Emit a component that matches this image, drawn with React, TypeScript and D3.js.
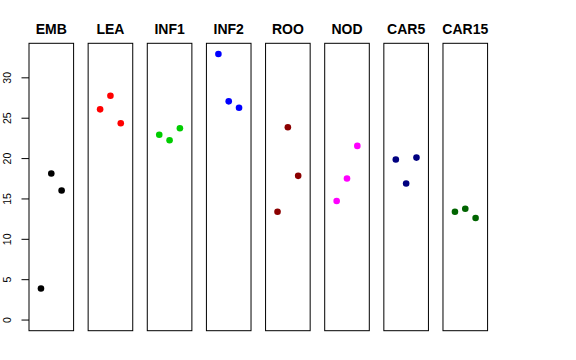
import React from "react";
import * as d3 from "d3";

const categories = ["EMB", "LEA", "INF1", "INF2", "ROO", "NOD", "CAR5", "CAR15"];
const colors = ["#000000", "#FF0000", "#00CD00", "#0000FF", "#8B0000", "#FF00FF", "#000080", "#006400"];
const values: number[][] = [
  [3.9, 18.15, 16.05],
  [26.1, 27.78, 24.37],
  [22.96, 22.27, 23.75],
  [32.96, 27.09, 26.3],
  [13.42, 23.88, 17.86],
  [14.74, 17.53, 21.57],
  [19.88, 16.91, 20.12],
  [13.42, 13.79, 12.64],
];
const yTicks = [0, 5, 10, 15, 20, 25, 30];

const W = 576;
const H = 360;
const firstLeft = 29;
const pitch = 59.14;
const panelW = 44.6;
const top = 43.3;
const bottom = 330.7;

export default function App() {
  const maxV = d3.max(values.flat()) as number;
  const yExt = (maxV - 0) * 0.04;
  const y = d3.scaleLinear().domain([0 - yExt, maxV + yExt]).range([bottom, top]);
  const font = "'Liberation Sans', Arial, Helvetica, sans-serif";
  return (
    <svg width={W} height={H} style={{ position: "absolute", left: 0, top: 0 }}>
      <rect x={0} y={0} width={W} height={H} fill="#ffffff" />
      {categories.map((cat, i) => {
        const left = firstLeft + i * pitch;
        const x = d3.scaleLinear().domain([-0.16, 4.16]).range([left, left + panelW]);
        return (
          <g key={cat}>
            <text
              x={left + panelW / 2}
              y={34}
              textAnchor="middle"
              fontFamily={font}
              fontWeight="bold"
              fontSize={14}
              fill="#000"
            >
              {cat}
            </text>
            <rect x={left} y={top} width={panelW} height={bottom - top} fill="none" stroke="#000" strokeWidth={1} />
            {values[i].map((v, j) => (
              <circle key={j} cx={x(j + 1)} cy={y(v)} r={3.3} fill={colors[i]} />
            ))}
          </g>
        );
      })}
      {yTicks.map((t) => (
        <g key={t}>
          <line x1={firstLeft - 7.5} x2={firstLeft} y1={y(t)} y2={y(t)} stroke="#000" strokeWidth={1} />
          <text
            transform={`translate(11,${y(t)}) rotate(-90)`}
            textAnchor="middle"
            fontFamily={font}
            fontSize={10.5}
            fill="#000"
          >
            {t}
          </text>
        </g>
      ))}
    </svg>
  );
}
